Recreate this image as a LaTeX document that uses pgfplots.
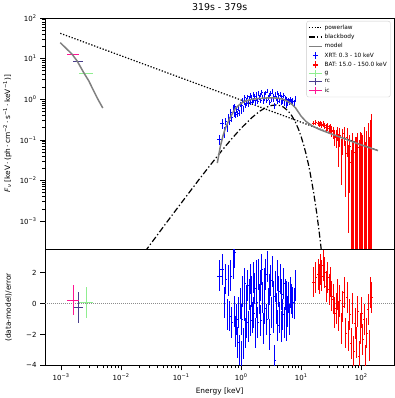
\documentclass[border=0pt]{standalone}
\usepackage{pgfplots}
\pgfplotsset{compat=1.18}
\usepackage{pgfplotstable}
\usepackage{fontspec}
\setmainfont{DejaVu Sans}

\newcommand{\tp}[1]{10\textsuperscript{#1}}
\definecolor{gcol}{RGB}{144,238,144}
\definecolor{rccol}{RGB}{72,61,139}
\definecolor{iccol}{RGB}{255,20,147}

\pgfplotsset{
  legpl/.style={legend image code/.code={\draw[black, line width=1.2pt, dash pattern=on 1.3pt off 1.5pt] (0pt,0pt)--(13pt,0pt);}},
  legbb/.style={legend image code/.code={\draw[black, line width=1.2pt, dash pattern=on 6pt off 2.2pt on 1.3pt off 2.2pt] (0pt,0pt)--(13pt,0pt);}},
  legmod/.style={legend image code/.code={\draw[gray, line width=1.5pt] (0pt,0pt)--(13pt,0pt);}},
  legxrt/.style={legend image code/.code={\draw[blue, line width=1.2pt] (6.5pt,-3.5pt)--(6.5pt,3.5pt) (4pt,0pt)--(9pt,0pt);}},
  legbat/.style={legend image code/.code={\draw[red, line width=1.2pt] (6.5pt,-3.5pt)--(6.5pt,3.5pt) (4pt,0pt)--(9pt,0pt);}},
  legg/.style={legend image code/.code={\draw[gcol, line width=1.2pt] (0pt,0pt)--(13pt,0pt) (6.5pt,-3.5pt)--(6.5pt,3.5pt);}},
  legrc/.style={legend image code/.code={\draw[rccol, line width=1.2pt] (0pt,0pt)--(13pt,0pt) (6.5pt,-3.5pt)--(6.5pt,3.5pt);}},
  legic/.style={legend image code/.code={\draw[iccol, line width=1.2pt] (0pt,0pt)--(13pt,0pt) (6.5pt,-3.5pt)--(6.5pt,3.5pt);}},
}

% XRT: energy, flux, flux error, half bin width, residual
\pgfplotstableread{
E F err xe r
0.43 0.105 0.03 0.04 1.8
0.48 0.26 0.07 0.03 2.2
0.52 0.16 0.05 0.01 0.1
0.55 0.29 0.06 0.01 1.6
0.58 0.22 0.06 0.01 -0.7
0.61 0.36 0.07 0.01 1.5
0.64 0.30 0.07 0.01 -0.8
0.67 0.48 0.09 0.01 1.8
0.70 0.36 0.08 0.01 -1.2
0.73 0.62 0.10 0.01 2.6
0.76 0.45 0.09 0.01 -0.5
0.78 0.68 0.10 0.01 3.3
0.81 0.42 0.08 0.012 -1.8
0.84 0.55 0.09 0.012 -1.0
0.87 0.45 0.08 0.012 -2.5
0.90 0.62 0.10 0.012 -0.6
0.93 0.46 0.08 0.012 -3.0
0.96 0.75 0.11 0.012 0.0
0.99 0.52 0.09 0.012 -3.4
1.02 0.70 0.10 0.015 -1.0
1.05 0.92 0.13 0.015 0.8
1.08 0.60 0.10 0.015 -2.6
1.11 0.85 0.12 0.015 -0.1
1.14 1.10 0.15 0.015 1.3
1.17 0.72 0.11 0.015 -1.9
1.20 0.95 0.13 0.015 0.2
1.24 0.80 0.12 0.015 -1.2
1.28 1.15 0.16 0.015 1.2
1.32 0.78 0.12 0.015 -1.5
1.36 1.05 0.14 0.015 0.6
1.40 1.25 0.17 0.015 1.6
1.44 0.85 0.12 0.015 -1.1
1.48 1.12 0.15 0.015 0.8
1.52 0.88 0.13 0.02 -0.9
1.57 1.30 0.18 0.02 1.7
1.62 0.95 0.13 0.02 -0.6
1.67 1.20 0.16 0.02 1.0
1.72 0.82 0.12 0.02 -1.9
1.77 1.35 0.18 0.02 1.8
1.82 1.05 0.15 0.02 0.1
1.88 0.90 0.13 0.02 -1.2
1.94 1.40 0.19 0.02 1.9
2.00 1.10 0.15 0.03 0.3
2.06 1.28 0.17 0.03 1.2
2.12 0.92 0.13 0.03 -1.1
2.19 1.50 0.20 0.03 2.2
2.26 1.15 0.16 0.03 0.4
2.33 0.88 0.13 0.03 -1.6
2.40 1.32 0.18 0.03 1.3
2.48 1.05 0.15 0.03 -0.3
2.56 1.45 0.19 0.03 1.9
2.64 0.95 0.14 0.03 -1.0
2.72 1.60 0.21 0.03 2.4
2.81 1.10 0.15 0.03 0.0
2.90 1.25 0.17 0.03 0.9
2.99 0.85 0.13 0.03 -2.0
3.08 1.38 0.18 0.04 1.5
3.18 1.02 0.14 0.04 -0.6
3.28 1.55 0.20 0.04 2.1
3.38 0.98 0.14 0.04 -0.9
3.49 1.20 0.16 0.04 0.5
3.60 0.70 0.11 0.04 -3.7
3.71 1.30 0.17 0.04 1.1
3.83 1.05 0.15 0.04 -0.3
3.95 1.45 0.19 0.04 1.8
4.07 0.90 0.13 0.06 -1.4
4.20 1.22 0.17 0.06 0.8
4.33 0.95 0.14 0.06 -0.9
4.47 1.35 0.18 0.06 1.6
4.61 0.85 0.13 0.06 -1.5
4.76 1.15 0.16 0.06 0.6
4.91 0.92 0.14 0.06 -0.7
5.07 1.25 0.17 0.06 1.3
5.23 0.80 0.13 0.06 -1.2
5.40 1.05 0.15 0.06 0.6
5.57 0.75 0.13 0.08 -1.4
5.75 1.00 0.15 0.08 0.5
5.93 0.82 0.13 0.08 -0.5
6.12 0.95 0.15 0.08 0.4
6.35 0.85 0.14 0.08 -1.0
6.60 1.00 0.15 0.08 0.7
6.90 0.85 0.14 0.08 0.3
7.25 0.90 0.15 0.15 0.1
7.60 0.80 0.15 0.15 0.0
8.00 1.05 0.17 0.15 1.2
}\xrt

% BAT: energy, flux, error plus, error minus, half bin width, residual
\pgfplotstableread{
E F ep em xe r
16 0.262 0.035 0.035 1.0 1.4
17.5 0.268 0.035 0.035 0.5 1.7
19 0.25 0.035 0.035 0.5 1.9
20 0.238 0.035 0.035 0.5 1.6
21 0.255 0.04 0.04 0.5 2.2
22 0.232 0.04 0.04 0.5 1.8
23 0.245 0.04 0.04 0.5 2.5
24.5 0.222 0.04 0.04 0.75 2.0
26 0.20 0.04 0.04 0.75 1.1
27.5 0.212 0.045 0.045 0.75 1.7
29 0.19 0.045 0.045 0.75 0.9
30.5 0.198 0.05 0.05 0.75 1.4
32 0.168 0.05 0.05 0.8 0.5
34 0.158 0.05 0.05 1.0 0.3
36 0.122 0.05 0.05 1.0 -0.6
38 0.118 0.055 0.055 1.0 -0.3
40 0.152 0.06 0.06 1.0 0.6
42 0.082 0.06 0.06 1.0 -0.8
44 0.132 0.065 0.065 1.0 0.2
46.5 0.058 0.05 0.05 1.2 -1.6
49 0.112 0.07 0.07 1.2 -0.2
52 0.142 0.07 0.07 1.5 0.7
55 0.048 0.044 0.044 1.5 -1.9
58 0.118 0.08 0.08 1.5 0.4
61 0.038 0.0375 0.0375 1.5 -2.1
64 0.07 0.065 0.065 1.5 -0.7
67.5 0.028 0.0278 0.0278 1.7 -2.6
71 0.075 0.07 0.0748 1.8 -0.3
75 1e-5 0.09 5e-6 2 -3.1
79 0.05 0.065 0.0499 2 -1.3
83 1e-5 0.12 5e-6 2 -2.5
87 0.065 0.08 0.0649 2 -0.5
91.5 1e-5 0.10 5e-6 2.2 -3.4
96 1e-5 0.16 5e-6 2.2 -1.6
101 0.06 0.09 0.0599 2.5 -0.6
106 1e-5 0.13 5e-6 2.5 -2.3
111 1e-5 0.21 5e-6 2.5 -1.0
117 1e-5 0.09 5e-6 3 -3.7
123 1e-5 0.17 5e-6 3 -1.9
129 1e-5 0.26 5e-6 3 -0.4
136 1e-5 0.12 5e-6 3.5 -2.7
143 1e-5 0.31 5e-6 3.5 0.7
150 1e-5 0.44 5e-6 3.5 0.4
}\bat

% optical bands: energy, flux, x error plus/minus, residual
\pgfplotstableread{
E F xp xm r
0.002640 4.27 0.00077 0.00062 0.08
}\gband
\pgfplotstableread{
E F xp xm r
0.001919 8.6 0.00041 0.00035 -0.24
}\rcband
\pgfplotstableread{
E F xp xm r
0.001585 13.0 0.00039 0.00033 0.24
}\icband

\begin{document}
\begin{tikzpicture}
\begin{axis}[name=top, scale only axis, width=349pt, height=231pt,
  xmode=log, ymode=log, xmin=5.4e-4, xmax=355, ymin=2.05e-4, ymax=100,
  tick align=outside, ytick pos=left,
  major tick length=4.9pt, minor tick length=2.8pt,
  every tick/.style={black, line width=0.8pt},
  axis line style={line width=0.8pt},
  tick label style={font=\fontsize{7}{8}\selectfont},
  label style={font=\fontsize{7.4}{9}\selectfont},
  ylabel style={at={(axis description cs:-0.085,0.5)}, anchor=south},
  xtick=\empty,
  ytick={1e-3,1e-2,1e-1,1,10,100},
  yticklabels={\tp{−3},\tp{−2},\tp{−1},\tp{0},\tp{1},\tp{2}},
  title={319s - 379s},
  title style={font=\fontsize{9.4}{11}\selectfont, yshift=-2pt},
  ylabel={{\itshape F}\textsubscript{\itshape ν} [keV\,·\,(ph\,·\,cm\textsuperscript{−2}\,·\,s\textsuperscript{−1}\,·\,keV\textsuperscript{−1})]},
  legend style={at={(0.989,0.987)}, anchor=north east,
    font=\fontsize{5.8}{7}\selectfont, draw=black!20, rounded corners=2pt,
    fill=white, fill opacity=0.8, text opacity=1, row sep=-0.6pt,
    inner sep=1.5pt, cells={anchor=west}},
]
\addlegendimage{legpl}
\addlegendentry{powerlaw}
\addlegendimage{legbb}
\addlegendentry{blackbody}
\addlegendimage{legmod}
\addlegendentry{model}
\addlegendimage{legxrt}
\addlegendentry{XRT: 0.3 - 10 keV}
\addlegendimage{legbat}
\addlegendentry{BAT: 15.0 - 150.0 keV}
\addlegendimage{legg}
\addlegendentry{g}
\addlegendimage{legrc}
\addlegendentry{rc}
\addlegendimage{legic}
\addlegendentry{ic}

% powerlaw
\addplot[forget plot, black, line width=1.2pt, dash pattern=on 1.3pt off 1.7pt]
  coordinates {(0.00097,42) (190,0.0548)};
% blackbody
\addplot[forget plot, black, line width=1.2pt, dash pattern=on 6pt off 2.4pt on 1.3pt off 2.4pt]
  coordinates {(0.025,1.80e-4) (0.03,2.58e-4) (0.05,7.13e-4) (0.1,2.79e-3)
  (0.2,0.01077) (0.3,0.0233) (0.5,0.0598) (0.7,0.1081) (1,0.1948)
  (1.5,0.3528) (2,0.4993) (2.5,0.6146) (3,0.6903) (3.75,0.73) (4.5,0.6989)
  (5,0.6509) (6,0.5238) (7,0.3899) (8,0.2736) (9,0.1835) (10,0.1185)
  (11,0.0743) (12,0.0455) (13,0.02728) (14,0.01606) (16,0.00533)
  (18,0.001687) (20,5.14e-4) (22,1.52e-4)};

\addplot[forget plot, blue, draw=none, mark=none, error bars/.cd, error mark=none,
  error bar style={line width=0.8pt, draw=blue}, x dir=both, x explicit, y dir=both, y explicit]
  table[x=E, y=F, x error=xe, y error=err] {\xrt};
\addplot[forget plot, red, draw=none, mark=none, error bars/.cd, error mark=none,
  error bar style={line width=0.8pt, draw=red}, x dir=both, x explicit, y dir=both, y explicit]
  table[x=E, y=F, x error=xe, y error plus=ep, y error minus=em] {\bat};
\addplot[forget plot, gcol, draw=none, mark=none, error bars/.cd, error mark=none,
  error bar style={line width=0.9pt, draw=gcol}, x dir=both, x explicit]
  table[x=E, y=F, x error plus=xp, x error minus=xm] {\gband};
\addplot[forget plot, rccol, draw=none, mark=none, error bars/.cd, error mark=none,
  error bar style={line width=0.9pt, draw=rccol}, x dir=both, x explicit]
  table[x=E, y=F, x error plus=xp, x error minus=xm] {\rcband};
\addplot[forget plot, iccol, draw=none, mark=none, error bars/.cd, error mark=none,
  error bar style={line width=0.9pt, draw=iccol}, x dir=both, x explicit]
  table[x=E, y=F, x error plus=xp, x error minus=xm] {\icband};

% model
\addplot[forget plot, gray, line width=1.5pt] coordinates {
  (0.00097,24.7) (0.00126,17.0) (0.00153,12.8) (0.00185,8.8) (0.00239,4.5)
  (0.0029,2.83) (0.0035,1.6) (0.004,1.08) (0.00495,0.61)};
\addplot[forget plot, gray, line width=1.5pt] coordinates {
  (0.40,0.027) (0.45,0.07) (0.50,0.13) (0.55,0.2) (0.65,0.35) (0.8,0.6)
  (1.0,0.8) (1.2,0.92) (1.5,1.0) (2,1.05) (3,1.09) (4,1.07) (5,1.0)
  (6,0.88) (7,0.75) (8,0.62) (9,0.48) (10,0.38) (12,0.285) (15,0.225)
  (20,0.182) (30,0.145) (50,0.110) (100,0.0753) (190,0.0548)};
\end{axis}

\begin{axis}[at={(top.south west)}, anchor=north west,
  scale only axis, width=349pt, height=116pt,
  xmode=log, xmin=5.4e-4, xmax=355, ymin=-4, ymax=3.53,
  tick align=outside, ytick pos=left, xtick pos=bottom,
  major tick length=4.9pt, minor tick length=2.8pt,
  every tick/.style={black, line width=0.8pt},
  axis line style={line width=0.8pt},
  tick label style={font=\fontsize{7}{8}\selectfont},
  label style={font=\fontsize{7.4}{9}\selectfont},
  ylabel style={at={(axis description cs:-0.085,0.5)}, anchor=south},
  xtick={1e-3,1e-2,1e-1,1,10,100},
  xticklabels={\tp{−3},\tp{−2},\tp{−1},\tp{0},\tp{1},\tp{2}},
  ytick={-4,-2,0,2}, yticklabels={−4,−2,0,2},
  xlabel={Energy [keV]}, ylabel={(data-model)/error},
]
\addplot[black!45, line width=0.9pt, dash pattern=on 1pt off 1pt] coordinates {(5.4e-4,0) (355,0)};
\addplot[blue, draw=none, mark=none, error bars/.cd, error mark=none,
  error bar style={line width=0.8pt, draw=blue}, x dir=both, x explicit, y dir=both, y fixed=1]
  table[x=E, y=r, x error=xe] {\xrt};
\addplot[red, draw=none, mark=none, error bars/.cd, error mark=none,
  error bar style={line width=0.8pt, draw=red}, x dir=both, x explicit, y dir=both, y fixed=1]
  table[x=E, y=r, x error=xe] {\bat};
\addplot[gcol, draw=none, mark=none, error bars/.cd, error mark=none,
  error bar style={line width=0.9pt, draw=gcol}, x dir=both, x explicit, y dir=both, y fixed=1]
  table[x=E, y=r, x error plus=xp, x error minus=xm] {\gband};
\addplot[rccol, draw=none, mark=none, error bars/.cd, error mark=none,
  error bar style={line width=0.9pt, draw=rccol}, x dir=both, x explicit, y dir=both, y fixed=1]
  table[x=E, y=r, x error plus=xp, x error minus=xm] {\rcband};
\addplot[iccol, draw=none, mark=none, error bars/.cd, error mark=none,
  error bar style={line width=0.9pt, draw=iccol}, x dir=both, x explicit, y dir=both, y fixed=1]
  table[x=E, y=r, x error plus=xp, x error minus=xm] {\icband};
\end{axis}
\end{tikzpicture}
\end{document}
